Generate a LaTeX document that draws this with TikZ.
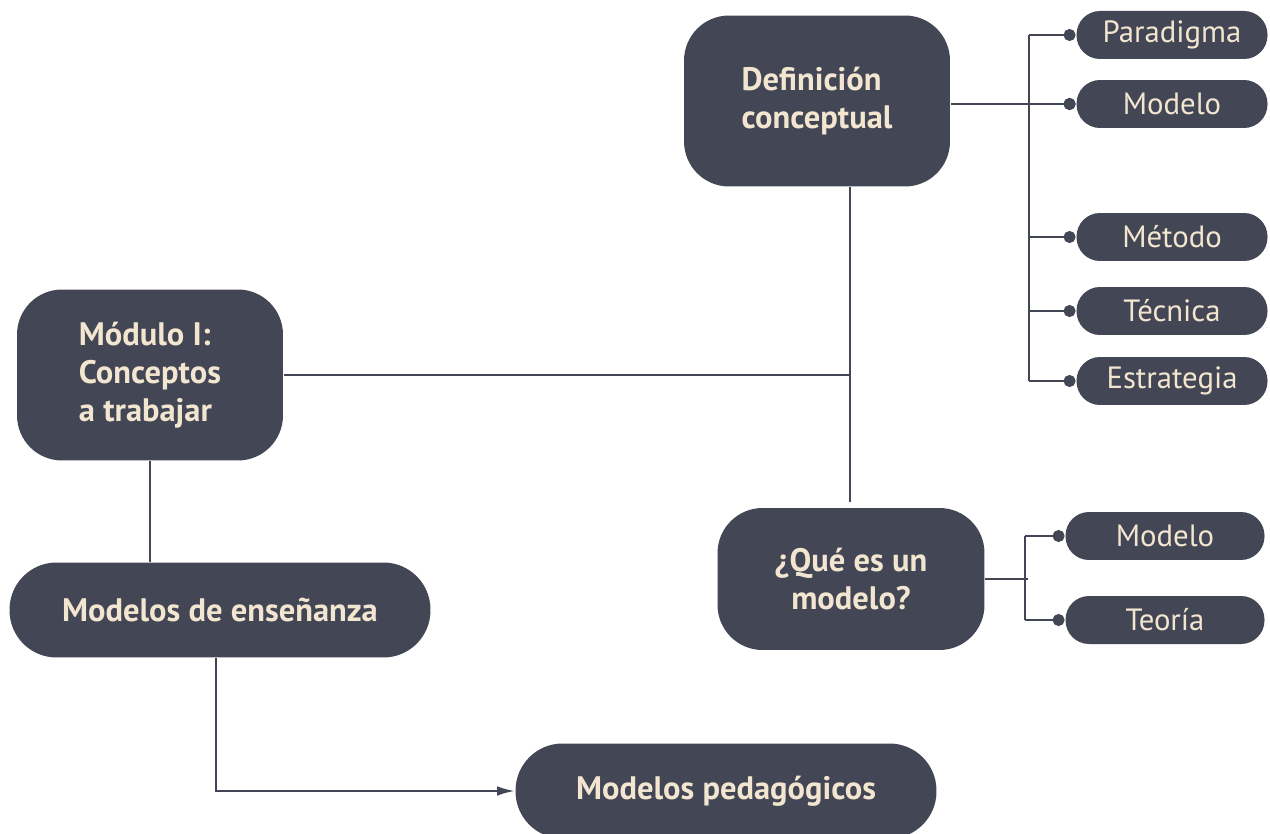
\documentclass[tikz,border=0pt]{standalone}
\usepackage{fontspec}
\setmainfont{PT Sans}
\usetikzlibrary{arrows.meta}
\definecolor{pizarra}{HTML}{434655}
\definecolor{crema}{HTML}{F3E6D0}
\begin{document}
\begin{tikzpicture}[>={Latex[length=10pt,width=5.5pt]},x=0.02cm,y=-0.02cm,line width=1.1pt,draw=pizarra,
	caja/.style={fill=pizarra,text=crema,rounded corners=0.9cm,minimum width=5.32cm,minimum height=3.42cm,
		font=\bfseries\fontsize{18.5}{21.5}\selectfont},
	pildora/.style={fill=pizarra,text=crema,rounded corners=0.94cm,minimum width=8.42cm,minimum height=1.9cm,
		font=\bfseries\fontsize{18.5}{21.5}\selectfont},
	pastilla/.style={fill=pizarra,text=crema,rounded corners=0.47cm,minimum width=3.82cm,minimum height=0.96cm,
		font=\fontsize{17.5}{20}\selectfont},
	punto/.style={-{Circle[length=0.24cm]}}]
\useasboundingbox (0,0) rectangle (1270,834);
% cajas principales
\node[caja,align=left] (definicion) at (817,101) {Definición\\conceptual};
\node[caja,align=left] (modulo) at (150,375) {Módulo I:\\Conceptos\\a trabajar};
\node[caja,align=center,minimum width=5.34cm,minimum height=2.84cm] (modelo) at (851,579) {¿Qué es un\\modelo?};
\node[pildora] (ensenanza) at (220,610) {Modelos de enseñanza};
\node[pildora] (pedagogicos) at (726,791) {Modelos pedagógicos};
% ejes
\coordinate (bus) at (1029,0);
\coordinate (eje) at (850,0);
\coordinate (bus2) at (1025,0);
\foreach \nombre/\texto/\y in {paradigma/Paradigma/35,modeloA/Modelo/104,metodo/Método/237,tecnica/Técnica/311,estrategia/Estrategia/381}{
	\node[pastilla] (\nombre) at (1172,\y) {\texto};
	\draw[punto] (bus |- \nombre) -- (\nombre.west);
}
\draw (bus |- paradigma) -- (bus |- estrategia);
\draw[punto] (definicion.east |- modeloA) -- (modeloA.west);
\foreach \nombre/\texto/\y in {modeloB/Modelo/536,teoria/Teoría/620}{
	\node[pastilla,minimum width=3.98cm] (\nombre) at (1165,\y) {\texto};
	\draw[punto] (bus2 |- \nombre) -- (\nombre.west);
}
\draw (bus2 |- modeloB) -- (bus2 |- teoria);
\draw (modelo.east) -- ([xshift=3*0.02cm]bus2 |- modelo.east);
% conexiones
\draw (definicion.south -| eje) -- ([yshift=0.1cm]modelo.north -| eje);
\draw (modulo.east) -- (modulo.east -| eje);
\draw (modulo.south) -- (modulo.south |- ensenanza.north);
\draw[->] ([xshift=-0.08cm]ensenanza.south) |- (pedagogicos.west);
\end{tikzpicture}
\end{document}
